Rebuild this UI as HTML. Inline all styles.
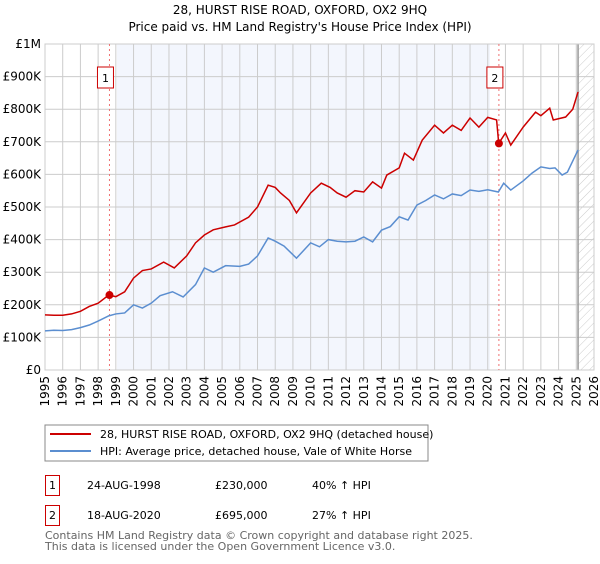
<!DOCTYPE html>
<html><head><meta charset="utf-8"><style>
body{margin:0;background:#fff;font-family:"DejaVu Sans","Liberation Sans",sans-serif;}
svg text{font-family:"DejaVu Sans","Liberation Sans",sans-serif;}
</style></head><body>
<svg id="c" width="600" height="560" xmlns="http://www.w3.org/2000/svg">
<defs><pattern id="hatch" width="6" height="6" patternUnits="userSpaceOnUse" patternTransform="rotate(45)"><line x1="0" y1="0" x2="0" y2="6" stroke="#ccc" stroke-width="1"/></pattern></defs>
<text x="300" y="14" text-anchor="middle" font-size="12" fill="#000">28, HURST RISE ROAD, OXFORD, OX2 9HQ</text>
<text x="300" y="31" text-anchor="middle" font-size="12" fill="#000">Price paid vs. HM Land Registry's House Price Index (HPI)</text>
<g id="plot"></g>
<rect x="45" y="425" width="383" height="36" fill="#fff" stroke="#888"/>
<line x1="50" y1="434" x2="91" y2="434" stroke="#cc0000" stroke-width="2"/>
<text x="100" y="438" font-size="11">28, HURST RISE ROAD, OXFORD, OX2 9HQ (detached house)</text>
<line x1="50" y1="451" x2="91" y2="451" stroke="#5b8ed0" stroke-width="2"/>
<text x="100" y="455" font-size="11">HPI: Average price, detached house, Vale of White Horse</text>
<g>
<rect x="45.5" y="475.5" width="14" height="20" fill="#fff" stroke="#cc0000"/>
<text x="52.5" y="489" text-anchor="middle" font-size="11">1</text>
<text x="87" y="489" font-size="11">24-AUG-1998</text>
<text x="215" y="489" font-size="11">£230,000</text>
<text x="312" y="489" font-size="11">40% ↑ HPI</text></g>
<g>
<rect x="45.5" y="505.5" width="14" height="20" fill="#fff" stroke="#cc0000"/>
<text x="52.5" y="519" text-anchor="middle" font-size="11">2</text>
<text x="87" y="519" font-size="11">18-AUG-2020</text>
<text x="215" y="519" font-size="11">£695,000</text>
<text x="312" y="519" font-size="11">27% ↑ HPI</text></g>
<text x="45" y="539" font-size="11" fill="#666">Contains HM Land Registry data © Crown copyright and database right 2025.</text>
<text x="45" y="550" font-size="11" fill="#666">This data is licensed under the Open Government Licence v3.0.</text>
</svg>
<script>
const hpiYears=[1995,1995.5,1996,1996.5,1997,1997.5,1998,1998.6,1999,1999.5,2000,2000.5,2001,2001.5,2002.2,2002.8,2003.5,2004,2004.5,2005.2,2006,2006.5,2007,2007.6,2008,2008.5,2009.2,2010,2010.5,2011,2011.5,2012,2012.5,2013,2013.5,2014,2014.5,2015,2015.5,2016,2016.5,2017,2017.5,2018,2018.5,2019,2019.5,2020,2020.6,2020.9,2021.3,2022,2022.5,2023,2023.5,2023.8,2024.2,2024.5,2025.1];
const hpiValues=[120,122,121,124,130,138,150,166,172,175,200,190,205,228,240,224,262,313,300,320,318,325,350,405,395,380,343,390,378,400,395,393,395,408,393,429,440,470,460,506,520,537,525,540,535,552,548,553,546,573,552,580,604,623,618,620,598,607,675];
const propYears=[1995,1995.5,1996,1996.5,1997,1997.5,1998,1998.6,1999,1999.5,2000,2000.5,2001,2001.7,2002.3,2003,2003.5,2004,2004.5,2005.2,2005.7,2006.5,2007,2007.6,2008,2008.3,2008.8,2009.2,2010,2010.6,2011.1,2011.5,2012,2012.5,2013,2013.5,2014,2014.3,2015,2015.3,2015.8,2016.3,2017,2017.5,2018,2018.5,2019,2019.5,2020,2020.5,2020.62,2021,2021.3,2022,2022.7,2023,2023.5,2023.7,2024.4,2024.8,2025.1];
const propValues=[169,168,168,172,180,195,205,230,225,240,282,305,310,331,313,350,390,414,430,439,445,469,500,567,560,543,520,482,543,573,560,543,530,550,546,577,558,598,620,665,644,705,751,727,751,735,773,745,775,767,695,727,690,745,791,780,803,767,776,800,853];
const yTicks=[0,100,200,300,400,500,600,700,800,900,1000];
const yLabels=["£0","£100K","£200K","£300K","£400K","£500K","£600K","£700K","£800K","£900K","£1M"];
const xTicks=[1995,1996,1997,1998,1999,2000,2001,2002,2003,2004,2005,2006,2007,2008,2009,2010,2011,2012,2013,2014,2015,2016,2017,2018,2019,2020,2021,2022,2023,2024,2025,2026];
const saleYears=[1998.64,2020.63];
const saleValues=[230,695];
const saleLabels=["1","2"];
const X0=45,X1=594,Y0=370,Y1=44;
const xs=y=>X0+(y-1995)/(2026-1995)*(X1-X0);
const ys=v=>Y0-v/1000*(Y0-Y1);
const NS="http://www.w3.org/2000/svg";
const g=document.getElementById('plot');
function mk(t,a,p){const e=document.createElementNS(NS,t);for(const k in a)e.setAttribute(k,a[k]);(p||g).appendChild(e);return e;}
const bg=mk('rect',{x:X0,y:Y1,width:X1-X0,height:Y0-Y1,fill:'#fff'});


const sh=mk('rect',{x:117,y:Y1,width:490-117,height:Y0-Y1,fill:'#f3f6fd'});


const ht=mk('rect',{x:xs(2025.1),y:Y1,width:X1-xs(2025.1),height:Y0-Y1,fill:'url(#hatch)'});


yTicks.forEach((v,i)=>{
 const l=mk('line',{x1:X0,x2:X1,y1:ys(v),y2:ys(v),stroke:'#ccc','stroke-width':1});
 
 
 const t=mk('text',{x:X0-4,y:ys(v)+4,'text-anchor':'end','font-size':12});
 t.textContent=yLabels[i];
 
 
});
xTicks.forEach(yr=>{
 const l=mk('line',{x1:xs(yr),x2:xs(yr),y1:Y1,y2:Y0,stroke:'#ccc','stroke-width':1});
 
 
 const t=mk('text',{x:0,y:0,'text-anchor':'end','font-size':12,transform:`translate(${xs(yr)+4},${Y0+6}) rotate(-90)`});
 t.textContent=yr;
 
 
});
const fl=mk('line',{x1:xs(2025.1),x2:xs(2025.1),y1:Y1,y2:Y0,stroke:'#999','stroke-width':1.5});


const fr=mk('rect',{x:X0,y:Y1,width:X1-X0,height:Y0-Y1,fill:'none',stroke:'#ccc'});


saleYears.forEach((yr,i)=>{
 const l=mk('line',{x1:xs(yr),x2:xs(yr),y1:Y1,y2:Y0,stroke:'#f07070','stroke-width':1,'stroke-dasharray':'2,3'});
 
 
});
const hp=mk('polyline',{points:hpiYears.map((y,i)=>xs(y)+','+ys(hpiValues[i])).join(' '),fill:'none',stroke:'#5b8ed0','stroke-width':1.5});


const pp=mk('polyline',{points:propYears.map((y,i)=>xs(y)+','+ys(propValues[i])).join(' '),fill:'none',stroke:'#cc0000','stroke-width':1.5});


saleYears.forEach((yr,i)=>{
 const c=mk('circle',{cx:xs(yr),cy:ys(saleValues[i]),r:4,fill:'#cc0000'});
 
 
 const bx=xs(yr)-8;
 const r=mk('rect',{x:bx-4,y:67,width:16,height:21,fill:'#fff',stroke:'#cc0000'});
 
 
 const t=mk('text',{x:bx+4,y:82,'text-anchor':'middle','font-size':11});
 t.textContent=saleLabels[i];
 
 
});
</script>
</body></html>
